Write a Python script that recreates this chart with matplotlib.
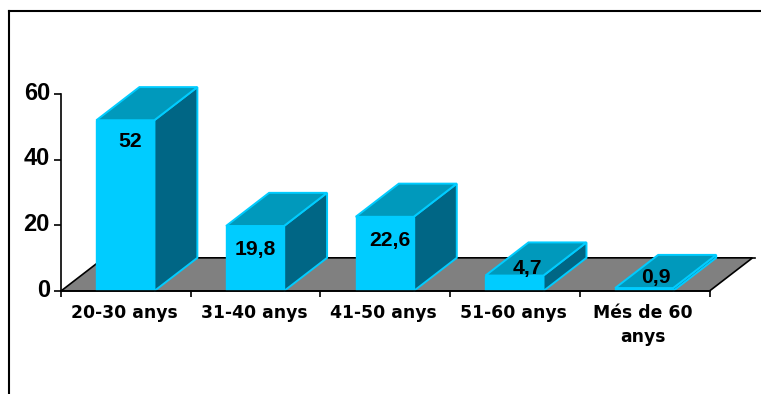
import matplotlib
matplotlib.use("Agg")
import matplotlib.pyplot as plt
from matplotlib.lines import Line2D
from matplotlib.patches import Polygon
from matplotlib.transforms import ScaledTranslation

categories = ["20-30 anys", "31-40 anys", "41-50 anys", "51-60 anys", "Més de 60\nanys"]
values = [52, 19.8, 22.6, 4.7, 0.9]
value_labels = ["52", "19,8", "22,6", "4,7", "0,9"]
y_ticks = [0, 20, 40, 60]

# Desplaçament de les etiquetes respecte al centre superior de la barra (punts)
label_offsets = [(3, -15), (0, -17), (3, -17), (9, 5), (8, 7.5)]

W, H = 761, 394
FRONT = "#00CCFF"
TOP = "#0099BC"
SIDE = "#006685"
FLOOR = "#808080"

BAR_WIDTH = 0.447
BAR_SHIFT = -0.004
DEPTH_X = 0.332
DEPTH_Y = 10.1

plt.rcParams["font.family"] = ["Liberation Sans", "DejaVu Sans"]
plt.rcParams["font.weight"] = "bold"

fig = plt.figure(figsize=(W / 100, H / 100), dpi=100)
ax = fig.add_axes([61 / W, (H - 291) / H, (709.5 - 61) / W, (291 - 94) / H])
ax.set_xlim(0, len(categories))
ax.set_ylim(0, 60)


def face(points, color, edge, zorder):
    ax.add_patch(Polygon(points, closed=True, facecolor=color, edgecolor=edge,
                         linewidth=1.4, zorder=zorder, clip_on=False))


# Terra del gràfic en perspectiva
n = len(categories)
ax.add_patch(Polygon([(0, 0), (n, 0), (n + DEPTH_X, DEPTH_Y), (DEPTH_X, DEPTH_Y)], closed=True,
                     facecolor=FLOOR, edgecolor="black", linewidth=1.2, zorder=1, clip_on=False))
ax.plot([n + DEPTH_X, n + DEPTH_X + 0.02], [DEPTH_Y, DEPTH_Y], color="black", lw=1.2, clip_on=False, zorder=1)

# Barres 3D: cara lateral, superior i frontal
for i, val in enumerate(values):
    xc = i + 0.5 + BAR_SHIFT
    x0 = xc - BAR_WIDTH / 2
    x1 = xc + BAR_WIDTH / 2
    z = 2 + i * 0.01
    face([(x1, 0), (x1 + DEPTH_X, DEPTH_Y), (x1 + DEPTH_X, val + DEPTH_Y), (x1, val)], SIDE, FRONT, z)
    face([(x0, val), (x1, val), (x1 + DEPTH_X, val + DEPTH_Y), (x0 + DEPTH_X, val + DEPTH_Y)], TOP, FRONT, z)
    ax.bar(xc, val, width=BAR_WIDTH, color=FRONT, edgecolor=FRONT, linewidth=1.0, zorder=z)

for i, val in enumerate(values):
    ax.annotate(value_labels[i], (i + 0.5, val), xytext=label_offsets[i], textcoords="offset points",
                ha="center", va="center", fontsize=15.2, fontweight="bold", color="black",
                zorder=5, annotation_clip=False)

for side in ["top", "right"]:
    ax.spines[side].set_visible(False)
for side in ["left", "bottom"]:
    ax.spines[side].set_linewidth(1.2)
    ax.spines[side].set_zorder(4)

ax.set_yticks(y_ticks)
ax.tick_params(axis="y", length=5, width=1.2, pad=3, labelsize=17)
# Les xifres de l'eix Y queden una mica per sobre de la marca
up = ScaledTranslation(0, 2.5 / 72, fig.dpi_scale_trans)
for lab in ax.get_yticklabels():
    lab.set_transform(lab.get_transform() + up)

ax.set_xticks(range(n + 1))
ax.set_xticklabels([])
ax.tick_params(axis="x", which="major", length=4.5, width=1.2)
ax.set_xticks([i + 0.5 for i in range(n)], minor=True)
ax.set_xticklabels(categories, minor=True, fontsize=12.4, family="DejaVu Sans", fontweight="bold", linespacing=1.5)
ax.tick_params(axis="x", which="minor", length=0, pad=9)
left = ScaledTranslation(-1 / 72, 0, fig.dpi_scale_trans)
for lab in ax.get_xticklabels(minor=True):
    lab.set_transform(lab.get_transform() + left)

# Marc exterior: només línia superior i esquerra
fig.add_artist(Line2D([9 / W, 1], [1 - 11 / H, 1 - 11 / H], color="black", lw=1.5, transform=fig.transFigure))
fig.add_artist(Line2D([9 / W, 9 / W], [1 - 11 / H, 0], color="black", lw=1.5, transform=fig.transFigure))

fig.savefig("out.png", dpi=100)
